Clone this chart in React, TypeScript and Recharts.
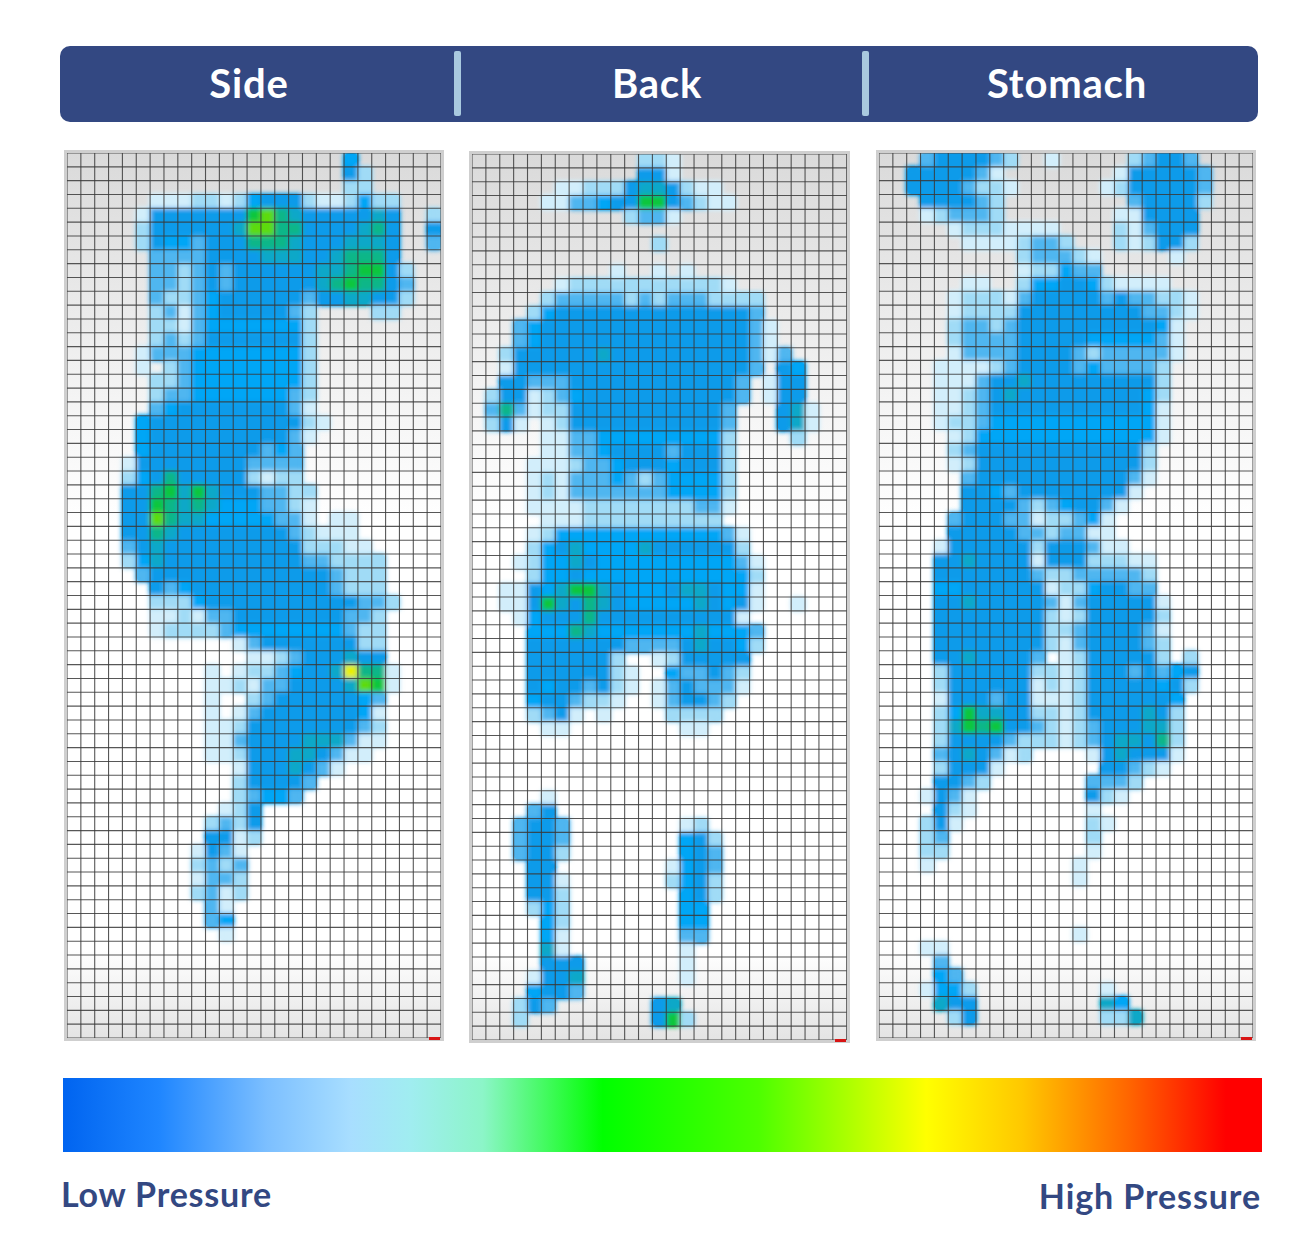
import { CartesianGrid, Scatter, ScatterChart, XAxis, YAxis } from 'recharts'

const NAVY = '#334882'

const postures = ['Side', 'Back', 'Stomach']
const lowLabel = 'Low Pressure'
const highLabel = 'High Pressure'

// pressure level per sensor cell, one string per row: . = nothing, 1 to 9 and a = low to high
const sideRows = [
  '....................4',
  '....................52',
  '....................22',
  '......111221245552112422',
  '.....1555555589765555565..2',
  '.....2555555699775555675..5',
  '.....2544355577765556665..3',
  '......333355556665567775',
  '......3323535555556678852',
  '......3323535555556787753',
  '......3223455555535566552',
  '......231345555532....22',
  '......221344444442',
  '......232355555552',
  '.....1333444444442',
  '.....1.23444444442',
  '......223444444442',
  '......233444444432',
  '......345555555531',
  '.....45555555555521',
  '.....4555555555531',
  '.....455555555343',
  '....1555555553333',
  '....2457555552122',
  '....55786865553322',
  '....55876764443321',
  '....55976644444331.11',
  '....55765555555532111',
  '....356555555555522211',
  '....2465555555555332222',
  '.....355555555555553222',
  '......53455555555553222',
  '......222455555555555332',
  '......11213355555555332',
  '......12222344444444322',
  '............13555555522',
  '.............1123555655',
  '..........1.12234556a771',
  '..........11213355556981',
  '..........1..2355555543',
  '..........1.13555555541',
  '..........1125555555532',
  '..........1135555666311',
  '..........112555665311',
  '............15556531',
  '............255553',
  '............23443',
  '...........125',
  '..........2325',
  '..........5512',
  '.........1531',
  '.........2323',
  '.........1332',
  '.........2312',
  '..........31',
  '..........34',
  '...........1',
]

const backRows = [
  '............221',
  '............551',
  '......112225665211',
  '.....11334558853211',
  '...........2331',
  '',
  '.............2',
  '',
  '..........1..1.1',
  '......1222222222221',
  '.....2333332323332222',
  '....24555555555555553',
  '...3455555555555555531',
  '...3455555555555555531',
  '..255555565555555555313',
  '..1555555555555555553.54',
  '..553335555555555553.155',
  '.2551234555555555553.155',
  '.373122555555555553...561',
  '.251.12555555555553...561',
  '.....11334444444442....2',
  '.....11334555535552',
  '....111233455545552',
  '....121333432344442',
  '....121333333344442',
  '....111122222222331',
  '.....1112222222222',
  '....1244444444444431',
  '....2456444465555552',
  '...124465444444444431',
  '....24454444444444442',
  '..1154688654445665441',
  '..1158657654444465451..1',
  '...14555755555555551',
  '....44476444444464443',
  '....55555553333565542',
  '....5555552..1255555',
  '....55555521..433532',
  '....54553521.1353331',
  '....4553221..135532',
  '....2351.1....2222',
  '.....11........11',
  '',
  '',
  '',
  '',
  '.....1',
  '....35',
  '...3553........12',
  '...3553........452',
  '...3552........453',
  '....55........1453',
  '....551.......2452',
  '....552........452',
  '....242........44',
  '.....42........44',
  '.....41........33',
  '.....61........1',
  '.....555.......1',
  '....1556.......1',
  '....4553',
  '...253.......56',
  '...2.........582',
]

const stomachRows = [
  '...3555532..1.....23553',
  '..5555531........1555553',
  '..55553221......12555553',
  '...555532.........355552',
  '...123332........115555',
  '.....12221111....213555',
  '......11112332...212552',
  '..........233321.....1',
  '..........122433',
  '......11..24455421111',
  '.....122213555553533221',
  '.....122225555555553321',
  '.....23323555555555541',
  '.....23333555554444431',
  '.....13333555532333331',
  '....11112355553433332',
  '....11135565555555552',
  '....11235655555555542',
  '....11235555555555541',
  '....12234444444444441',
  '.....1244444444444441',
  '.....235555555555552',
  '.....125555555555552',
  '......35555555555531',
  '......5543555555551',
  '......555532345531',
  '.....355533122341',
  '.....555553323311',
  '....15555552555311',
  '....5565555155522211',
  '....5555555322333332',
  '....4455555512245533',
  '....55655555313555551',
  '....55555555212555552',
  '....55555555223555531',
  '....55555555213555532',
  '....55655553.12555552.2',
  '....2555555221255535345',
  '....2555555121255555452',
  '....155535511125555554',
  '....248665522125555652',
  '....268785532123555662',
  '....255553222123566572',
  '....3565312....1565551',
  '....25551.......55321',
  '....5532.......3332',
  '...1531........521',
  '....521........1',
  '...251.........21',
  '...23..........2',
  '...22..........1',
  '...1..........1',
  '..............1',
  '',
  '',
  '',
  '..............1',
  '...11',
  '....3',
  '....43',
  '...1442.........1',
  '....655.........64',
  '.....25.........226',
]

const levelColors = ['', '#d2eefb', '#a0dbf6', '#4fb6f0', '#03a6f6', '#079bea', '#08a8c8', '#0bb688', '#0ac63e', '#5ddb0a', '#e8f000']

const scaleStops = [
  [0, '#0064f0'],
  [8, '#1f86ff'],
  [17, '#7cbfff'],
  [24, '#a8deff'],
  [29, '#a0edf0'],
  [35, '#8cf5c8'],
  [45, '#00ff00'],
  [58, '#4dff00'],
  [72, '#ffff00'],
  [80, '#ffc800'],
  [89, '#ff6400'],
  [97, '#ff0000'],
]

const COLS = 27
const ROWS = 64
const colLines = Array.from({ length: COLS + 1 }, (_, i) => i)
const rowLines = Array.from({ length: ROWS + 1 }, (_, i) => i)

interface HeatCell {
  x: number
  y: number
  level: number
}

function toCells(rows: string[]): HeatCell[] {
  const cells: HeatCell[] = []
  rows.forEach((row, y) => {
    row.split('').forEach((ch, x) => {
      if (ch !== '.') cells.push({ x: x + 0.5, y: y + 0.5, level: parseInt(ch, 16) })
    })
  })
  return cells
}

interface PanelProps {
  id: string
  rows: string[]
  left: number
  top: number
  width: number
  height: number
}

function Panel({ id, rows, left, top, width, height }: PanelProps) {
  const cellW = width / COLS
  const cellH = height / ROWS

  const drawCell = (props: any) => (
    <rect
      x={props.cx - cellW / 2 - 0.3}
      y={props.cy - cellH / 2 - 0.3}
      width={cellW + 0.6}
      height={cellH + 0.6}
      fill={levelColors[props.payload.level]}
    />
  )

  return (
    <>
      <div
        style={{
          position: 'absolute',
          left: left - 3,
          top: top - 3,
          width: width + 6,
          height: height + 6,
          boxSizing: 'border-box',
          border: '3px solid #cfcfcf',
        }}
      />
      <div style={{ position: 'absolute', left, top }}>
        <ScatterChart width={width} height={height} margin={{ top: 0, right: 0, bottom: 0, left: 0 }}>
          <defs>
            <linearGradient id={`${id}-bg`} x1="0" y1="0" x2="0" y2="1">
              <stop offset="0%" stopColor="#dadada" />
              <stop offset="15%" stopColor="#e8e8e8" />
              <stop offset="30%" stopColor="#f6f6f6" />
              <stop offset="42%" stopColor="#ffffff" />
              <stop offset="90%" stopColor="#ffffff" />
              <stop offset="100%" stopColor="#e4e4e4" />
            </linearGradient>
            <filter id={`${id}-blur`} x="-5%" y="-5%" width="110%" height="110%">
              <feGaussianBlur stdDeviation="2.6" />
              <feComponentTransfer>
                <feFuncA type="linear" slope="1.5" />
              </feComponentTransfer>
            </filter>
          </defs>
          <XAxis type="number" dataKey="x" domain={[0, COLS]} hide />
          <YAxis type="number" dataKey="y" domain={[0, ROWS]} reversed hide />
          <CartesianGrid horizontal={false} vertical={false} fill={`url(#${id}-bg)`} fillOpacity={1} />
          <Scatter data={toCells(rows)} shape={drawCell} isAnimationActive={false} className={`${id}-cells`} />
          <CartesianGrid
            zIndex={700}
            verticalPoints={colLines.map((i) => i * cellW)}
            horizontalPoints={rowLines.map((i) => i * cellH)}
            stroke="#3a3a3a"
            strokeOpacity={0.85}
            strokeWidth={1.1}
            fill="none"
          />
        </ScatterChart>
      </div>
      <style>{`.${id}-cells { filter: url(#${id}-blur); }`}</style>
      <div
        style={{
          position: 'absolute',
          left: left + width - 12,
          top: top + height - 1,
          width: 11,
          height: 3,
          background: '#d81414',
        }}
      />
    </>
  )
}

const headerCenters = [249, 657, 1067]
const dividerLefts = [454, 862]

function App() {
  const gradient = scaleStops.map(([p, c]) => `${c} ${p}%`).join(', ')
  const font = 'Lato, sans-serif'

  return (
    <div style={{ position: 'absolute', left: 0, top: 0, width: 1313, height: 1240, background: '#fff', fontFamily: font }}>
      <div style={{ position: 'absolute', left: 60, top: 46, width: 1198, height: 76, background: NAVY, borderRadius: 10 }} />
      {dividerLefts.map((x) => (
        <div key={x} style={{ position: 'absolute', left: x, top: 51, width: 7, height: 65, background: '#a9c9df', borderRadius: 2 }} />
      ))}
      {postures.map((name, i) => (
        <div
          key={name}
          style={{
            position: 'absolute',
            left: headerCenters[i] - 150,
            top: 45,
            width: 300,
            height: 76,
            lineHeight: '76px',
            textAlign: 'center',
            color: '#fff',
            fontSize: 40,
            letterSpacing: 0.8,
            fontWeight: 700,
          }}
        >
          {name}
        </div>
      ))}

      <Panel id="side" rows={sideRows} left={67.3} top={153} width={374} height={885} />
      <Panel id="back" rows={backRows} left={472.3} top={153.7} width={374.7} height={886} />
      <Panel id="stomach" rows={stomachRows} left={878.7} top={153} width={374} height={885} />

      <div style={{ position: 'absolute', left: 63, top: 1078, width: 1199, height: 74, background: `linear-gradient(to right, ${gradient})` }} />
      <div style={{ position: 'absolute', left: 61, top: 1174, color: NAVY, fontSize: 34, letterSpacing: 0.8, fontWeight: 700, lineHeight: '40px' }}>{lowLabel}</div>
      <div style={{ position: 'absolute', right: 52, top: 1176, color: NAVY, fontSize: 34, letterSpacing: 0.9, fontWeight: 700, lineHeight: '40px' }}>{highLabel}</div>
    </div>
  )
}

export default App
